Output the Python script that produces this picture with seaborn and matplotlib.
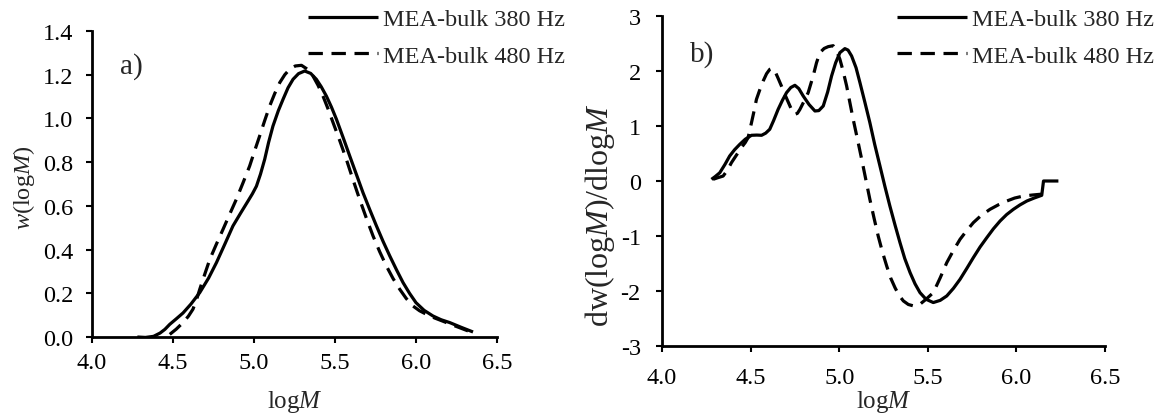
import matplotlib
matplotlib.use("Agg")
import matplotlib.pyplot as plt
import matplotlib.ticker as mticker
import seaborn as sns
import pandas as pd

# ---------------- data ----------------
series_names = ["MEA-bulk 380 Hz", "MEA-bulk 480 Hz"]

# panel a) w(logM)
a380_x = [4.28, 4.33, 4.38, 4.42, 4.45, 4.48, 4.52, 4.562, 4.61, 4.665, 4.72, 4.768,
          4.82, 4.87, 4.92, 4.963, 4.99, 5.015, 5.04, 5.066, 5.09, 5.117, 5.15, 5.179,
          5.21, 5.241, 5.275, 5.313, 5.35, 5.385, 5.415, 5.447, 5.478, 5.509, 5.55, 5.591,
          5.632, 5.673, 5.715, 5.756, 5.797, 5.838, 5.88, 5.92, 5.96, 6.0, 6.05, 6.105,
          6.155, 6.208, 6.28, 6.352]
a380_y = [0.0, -0.002, 0.003, 0.018, 0.035, 0.058, 0.083, 0.11, 0.15, 0.203, 0.27, 0.34,
          0.425, 0.508, 0.57, 0.622, 0.655, 0.69, 0.745, 0.813, 0.89, 0.965, 1.035, 1.087,
          1.14, 1.179, 1.205, 1.217, 1.206, 1.179, 1.145, 1.102, 1.052, 0.996, 0.913, 0.828,
          0.744, 0.66, 0.582, 0.508, 0.437, 0.371, 0.307, 0.249, 0.2, 0.157, 0.122, 0.096,
          0.079, 0.066, 0.044, 0.023]
a480_x = [4.48, 4.52, 4.562, 4.595, 4.623, 4.645, 4.665, 4.695, 4.727, 4.768, 4.809,
          4.85, 4.891, 4.932, 4.973, 5.004, 5.035, 5.066, 5.097, 5.128, 5.159, 5.19, 5.22,
          5.255, 5.293, 5.33, 5.364, 5.395, 5.426, 5.457, 5.488, 5.53, 5.57, 5.611, 5.652,
          5.694, 5.735, 5.776, 5.817, 5.858, 5.9, 5.94, 5.981, 6.022, 6.064, 6.115, 6.167,
          6.25, 6.331]
a480_y = [0.012, 0.036, 0.066, 0.095, 0.127, 0.17, 0.218, 0.285, 0.355, 0.425, 0.493,
          0.562, 0.63, 0.705, 0.782, 0.852, 0.92, 0.99, 1.057, 1.114, 1.164, 1.2, 1.225,
          1.24, 1.243, 1.225, 1.194, 1.152, 1.102, 1.044, 0.981, 0.897, 0.813, 0.72, 0.63,
          0.543, 0.462, 0.39, 0.325, 0.268, 0.218, 0.176, 0.142, 0.12, 0.104, 0.087, 0.072,
          0.048, 0.025]

# panel b) dw(logM)/dlogM
b380_x = [4.279, 4.3, 4.326, 4.355, 4.382, 4.41, 4.439, 4.47, 4.505, 4.535, 4.562, 4.585,
          4.608, 4.63, 4.655, 4.68, 4.703, 4.727, 4.75, 4.772, 4.797, 4.83, 4.863, 4.885,
          4.91, 4.935, 4.957, 4.98, 5.004, 5.032, 5.05, 5.07, 5.095, 5.117, 5.145, 5.173,
          5.2, 5.23, 5.258, 5.286, 5.315, 5.343, 5.37, 5.4, 5.428, 5.456, 5.49, 5.531, 5.57,
          5.607, 5.645, 5.682, 5.72, 5.757, 5.795, 5.833, 5.87, 5.908, 5.945, 5.983, 6.02,
          6.059, 6.1, 6.143, 6.153, 6.237]
b380_y = [0.03, 0.08, 0.15, 0.3, 0.455, 0.57, 0.667, 0.76, 0.831, 0.835, 0.831, 0.87,
          0.94, 1.1, 1.30, 1.47, 1.607, 1.70, 1.74, 1.68, 1.545, 1.39, 1.273, 1.28,
          1.364, 1.62, 1.909, 2.15, 2.334, 2.407, 2.38, 2.273, 2.06, 1.789, 1.43, 1.062,
          0.67, 0.273, -0.1, -0.455, -0.8, -1.12, -1.41, -1.666, -1.87, -2.03, -2.15, -2.21,
          -2.17, -2.09, -1.95, -1.787, -1.59, -1.393, -1.2, -1.03, -0.87, -0.727, -0.61,
          -0.515, -0.435, -0.364, -0.31, -0.26, 0.0, 0.0]
b480_x = [4.288, 4.315, 4.345, 4.37, 4.392, 4.42, 4.448, 4.47, 4.486, 4.505, 4.52, 4.533,
          4.552, 4.571, 4.59, 4.608, 4.622, 4.637, 4.655, 4.674, 4.698, 4.722, 4.736, 4.75,
          4.764, 4.778, 4.80, 4.825, 4.853, 4.872, 4.891, 4.915, 4.938, 4.966, 4.985, 5.004,
          5.022, 5.042, 5.06, 5.079, 5.103, 5.127, 5.15, 5.173, 5.197, 5.22, 5.244, 5.268,
          5.29, 5.315, 5.338, 5.362, 5.39, 5.418, 5.44, 5.456, 5.49, 5.531, 5.57, 5.607,
          5.645, 5.682, 5.72, 5.757, 5.8, 5.851, 5.9, 5.946, 5.99, 6.04, 6.09, 6.14]
b480_y = [0.03, 0.06, 0.09, 0.2, 0.334, 0.47, 0.607, 0.7, 0.789, 1.06, 1.28, 1.485,
          1.66, 1.818, 1.95, 2.03, 2.05, 2.0, 1.87, 1.727, 1.54, 1.364, 1.26, 1.212,
          1.23, 1.30, 1.44, 1.607, 1.909, 2.15, 2.334, 2.41, 2.443, 2.46, 2.37, 2.213,
          2.0, 1.727, 1.43, 1.121, 0.76, 0.394, 0.03, -0.333, -0.68, -1.0, -1.29, -1.545,
          -1.76, -1.94, -2.08, -2.18, -2.245, -2.27, -2.26, -2.24, -2.15, -2.03, -1.76, -1.485,
          -1.26, -1.06, -0.9, -0.757, -0.63, -0.515, -0.43, -0.364, -0.31, -0.273, -0.255, -0.24]

a_ticks_y = [0.0, 0.2, 0.4, 0.6, 0.8, 1.0, 1.2, 1.4]
b_ticks_y = [-3, -2, -1, 0, 1, 2, 3]
x_ticks = [4.0, 4.5, 5.0, 5.5, 6.0, 6.5]

# ---------------- style ----------------
sns.set_theme(style="white")
plt.rcParams["font.family"] = ["Liberation Serif", "DejaVu Serif"]
plt.rcParams["mathtext.fontset"] = "custom"
plt.rcParams["mathtext.rm"] = "Liberation Serif"
plt.rcParams["mathtext.it"] = "Liberation Serif:italic"
plt.rcParams["axes.unicode_minus"] = False

FS = 17.5
FS_LEG = 17.5
LW = 2.3
DASH = (4.5, 2.7)

W, H = 1156, 414
fig = plt.figure(figsize=(W / 100, H / 100), dpi=100)
ax_a = fig.add_axes([92 / W, (H - 338) / H, 405 / W, 306 / H])
ax_b = fig.add_axes([662 / W, (H - 347) / H, 443 / W, 330 / H])


def make_df(x1, y1, x2, y2):
    d1 = pd.DataFrame({"logM": x1, "val": y1, "series": series_names[0]})
    d2 = pd.DataFrame({"logM": x2, "val": y2, "series": series_names[1]})
    return pd.concat([d1, d2], ignore_index=True)


df_a = make_df(a380_x, a380_y, a480_x, a480_y)
df_b = make_df(b380_x, b380_y, b480_x, b480_y)

palette = {series_names[0]: "black", series_names[1]: "black"}
dashes = {series_names[0]: "", series_names[1]: DASH}

for ax, df in [(ax_a, df_a), (ax_b, df_b)]:
    sns.lineplot(data=df, x="logM", y="val", hue="series", style="series",
                 palette=palette, dashes=dashes, sort=False, estimator=None,
                 linewidth=LW, legend=False, ax=ax)
    for ln in ax.lines:
        ln.set_solid_capstyle("butt")
        ln.set_dash_capstyle("butt")
        ln.set_solid_joinstyle("round")
    for s in ["top", "right"]:
        ax.spines[s].set_visible(False)
    for s in ["left", "bottom"]:
        ax.spines[s].set_color("black")
        ax.spines[s].set_linewidth(2.0)
    ax.set_xlim(4.0, 6.5)
    ax.set_xticks(x_ticks)
    ax.xaxis.set_major_formatter(mticker.FormatStrFormatter("%.1f"))
    ax.tick_params(axis="both", which="major", direction="out", length=4.3, width=1.5,
                   color="black", labelsize=FS, labelcolor="black", bottom=True, left=True)
    ax.grid(False)
    handles = ax.lines[:2]
    ax.legend(handles, series_names, frameon=False, fontsize=FS_LEG, loc="upper right",
              borderpad=0, borderaxespad=0, handlelength=2.9, handletextpad=0.2,
              labelspacing=0.6, bbox_transform=fig.transFigure,
              bbox_to_anchor=((565 if ax is ax_a else 1154) / W, 1 - 9 / H))

# panel a axes
ax_a.set_ylim(0, 1.4)
ax_a.set_yticks(a_ticks_y)
ax_a.yaxis.set_major_formatter(mticker.FormatStrFormatter("%.1f"))
ax_a.tick_params(axis="y", pad=9)
ax_a.tick_params(axis="x", pad=6.5)
ax_a.set_xlabel(r"log$\mathit{M}$", fontsize=18, va="baseline")
ax_a.xaxis.set_label_coords(0.5, -0.229)
ax_a.set_ylabel(r"$\mathit{w}$(log$\mathit{M}$)", fontsize=17.5, va="center")
ax_a.yaxis.set_label_coords(-0.168, 0.49)
ax_a.text(0.069, 0.886, "a)", transform=ax_a.transAxes, fontsize=21,
          ha="left", va="center")

# panel b axes
ax_b.set_ylim(-3, 3)
ax_b.set_yticks(b_ticks_y)
ax_b.yaxis.set_major_formatter(mticker.FormatStrFormatter("%d"))
ax_b.tick_params(axis="y", pad=11)
ax_b.tick_params(axis="x", pad=10.5)
ax_b.set_xlabel(r"log$\mathit{M}$", fontsize=18, va="baseline")
ax_b.xaxis.set_label_coords(0.5, -0.185)
ax_b.set_ylabel(r"dw(log$\mathit{M}$)/dlog$\mathit{M}$", fontsize=23, va="center")
ax_b.yaxis.set_label_coords(-0.14, 0.40)
ax_b.text(0.063, 0.885, "b)", transform=ax_b.transAxes, fontsize=21,
          ha="left", va="center")

fig.savefig("out.png", dpi=100)
